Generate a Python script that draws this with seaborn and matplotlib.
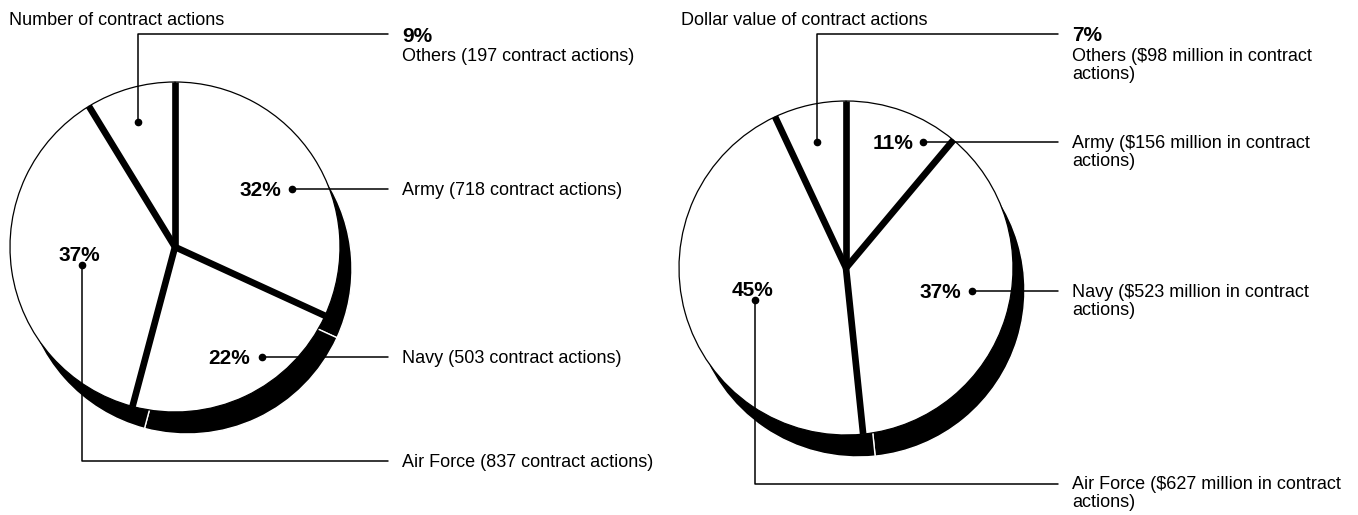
import numpy as np
import matplotlib
matplotlib.use("Agg")
import matplotlib.pyplot as plt
import seaborn as sns

# --- data -------------------------------------------------------------
categories = ["Army", "Navy", "Air Force", "Others"]
action_counts = [718, 503, 837, 197]
dollar_millions = [156, 523, 627, 98]

count_titles = ["Army (718 contract actions)",
                "Navy (503 contract actions)",
                "Air Force (837 contract actions)",
                "Others (197 contract actions)"]
dollar_titles = ["Army ($156 million in contract\nactions)",
                 "Navy ($523 million in contract\nactions)",
                 "Air Force ($627 million in contract\nactions)",
                 "Others ($98 million in contract\nactions)"]

# --- layout (pixel coordinates, y grows downward) ---------------------
W, H = 1358, 515
panels = [
    dict(title="Number of contract actions", title_xy=(9, 25),
         values=action_counts, names=count_titles,
         center=(175, 247), radius=165, line_end=388, text_x=402,
         # per category: dot, elbow y (None = straight), pct pos, pct align
         dots=[(292, 189), (262, 357), (82, 265), (138, 122)],
         elbow=[None, None, 461, 34],
         pct_xy=[(281, 196), (250, 364), (79, 261), (402, 42)],
         pct_ha=["right", "right", "center", "left"],
         text_y=[195, 363, 467, 61]),
    dict(title="Dollar value of contract actions", title_xy=(681, 25),
         values=dollar_millions, names=dollar_titles,
         center=(846, 268), radius=167, line_end=1058, text_x=1072,
         dots=[(923, 142), (972, 291), (755, 300), (817, 142)],
         elbow=[None, None, 484, 34],
         pct_xy=[(913, 149), (961, 298), (752, 296), (1072, 41)],
         pct_ha=["right", "right", "center", "left"],
         text_y=[148, 297, 489, 61]),
]
shadow_offset = (12, 22)

sns.set_theme(style="white")
plt.rcParams["font.family"] = ["Liberation Sans", "DejaVu Sans"]
plt.rcParams["text.color"] = "black"

fig = plt.figure(figsize=(W / 100, H / 100), dpi=100)
ax = fig.add_axes([0, 0, 1, 1])

for p in panels:
    cx, cy = p["center"]
    r = p["radius"]
    vals = np.array(p["values"], dtype=float)
    pcts = [f"{round(v / vals.sum() * 100):.0f}%" for v in vals]

    # y axis is inverted, so counterclockwise in data = clockwise on screen
    ax.pie(vals, center=(cx + shadow_offset[0], cy + shadow_offset[1]),
           radius=r, startangle=-90, counterclock=True, colors=["black"] * len(vals),
           wedgeprops=dict(edgecolor="white", linewidth=1.0, zorder=1))
    wedges, _ = ax.pie(vals, center=(cx, cy), radius=r, startangle=-90,
                       counterclock=True, colors=["white"] * len(vals),
                       wedgeprops=dict(edgecolor="black", linewidth=0.9, zorder=2))
    for w in wedges:
        th = np.deg2rad(w.theta1)
        ax.plot([cx, cx + r * np.cos(th)], [cy, cy + r * np.sin(th)],
                color="black", lw=4.8, solid_capstyle="butt", zorder=3)

    ax.text(*p["title_xy"], p["title"], fontsize=13, va="baseline", ha="left")

    for i in range(len(vals)):
        dx, dy = p["dots"][i]
        if p["elbow"][i] is None:
            xs, ys = [dx, p["line_end"]], [dy, dy]
        else:
            ey = p["elbow"][i]
            xs, ys = [dx, dx, p["line_end"]], [dy, ey, ey]
        ax.plot(xs, ys, color="black", lw=1.1, zorder=4)
        ax.plot([dx], [dy], "o", color="black", ms=4.5, zorder=5)

        px, py = p["pct_xy"][i]
        ax.text(px, py, pcts[i], fontsize=15, fontweight="bold",
                ha=p["pct_ha"][i], va="baseline", zorder=6)
        for k, line in enumerate(p["names"][i].split("\n")):
            ax.text(p["text_x"], p["text_y"][i] + 18 * k, line, fontsize=13,
                    ha="left", va="baseline", parse_math=False, zorder=6)

ax.set_xlim(0, W)
ax.set_ylim(H, 0)
ax.set_aspect("auto")
ax.axis("off")

fig.savefig("out.png", dpi=100, facecolor="white")
